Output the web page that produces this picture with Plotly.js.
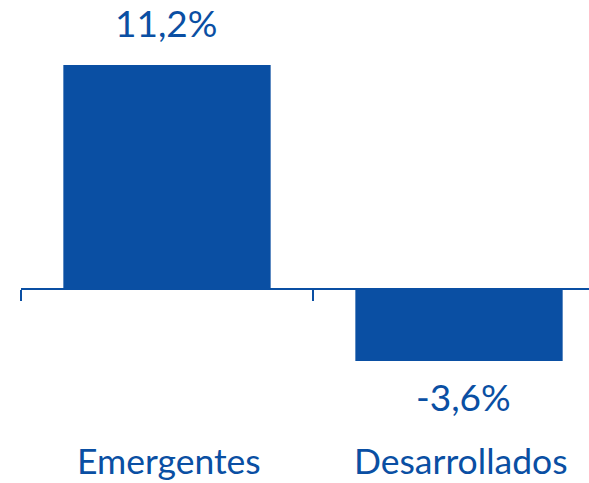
<!DOCTYPE html>
<html>
<head>
<meta charset="utf-8">
<script src="https://cdn.plot.ly/plotly-3.0.1.min.js"></script>
<style>html,body{margin:0;padding:0;background:#fff;}#chart{width:589px;height:483px;}</style>
</head>
<body>
<div id="chart"></div>
<script>
const categories = ["Emergentes", "Desarrollados"];
const values = [11.2, -3.6];
const valueLabels = ["11,2%", "-3,6%"];

const BLUE = "#0a4fa3";
const W = 589, H = 483;
const zeroPx = 289;          // pixel row of the zero line
const pxPerUnit = 20;        // vertical scale
const yTop = zeroPx / pxPerUnit;
const yBot = -(H - zeroPx) / pxPerUnit;
const left = 21;
const catPx = 292;
const xMax = -0.5 + (W - left) / catPx;

const trace = {
  type: "bar",
  x: categories,
  y: values,
  marker: {color: BLUE, line: {width: 0}},
  hoverinfo: "none"
};

const annotations = [];
values.forEach((v, i) => {
  annotations.push({
    x: categories[i], y: v, xref: "x", yref: "y",
    text: valueLabels[i], showarrow: false,
    yanchor: v >= 0 ? "bottom" : "top",
    yshift: v >= 0 ? 18 : -11,
    xshift: v >= 0 ? -1 : 4,
    font: {family: "Lato", size: 37, color: BLUE}
  });
  annotations.push({
    x: categories[i], y: 0, xref: "x", yref: "paper",
    text: categories[i], showarrow: false,
    yanchor: "bottom", borderpad: 0, yshift: 0,
    xshift: 2,
    font: {family: "Lato", size: 35.5, color: BLUE}
  });
});

const layout = {
  width: W, height: H,
  margin: {l: left, r: 0, t: 0, b: 0, pad: 0},
  paper_bgcolor: "#fff", plot_bgcolor: "#fff",
  showlegend: false,
  bargap: 0.29,
  xaxis: {
    type: "category",
    range: [-0.5, xMax],
    anchor: "free",
    position: (-yBot) / (yTop - yBot),
    showline: true, linecolor: BLUE, linewidth: 2,
    ticks: "outside", tickson: "boundaries", ticklen: 11, tickwidth: 2, tickcolor: BLUE,
    showticklabels: false, showgrid: false, zeroline: false, fixedrange: true
  },
  yaxis: {
    range: [yBot, yTop], visible: false, showgrid: false, zeroline: false, fixedrange: true
  },
  annotations: annotations
};

Plotly.newPlot("chart", [trace], layout, {staticPlot: true, displayModeBar: false});
</script>
</body>
</html>
